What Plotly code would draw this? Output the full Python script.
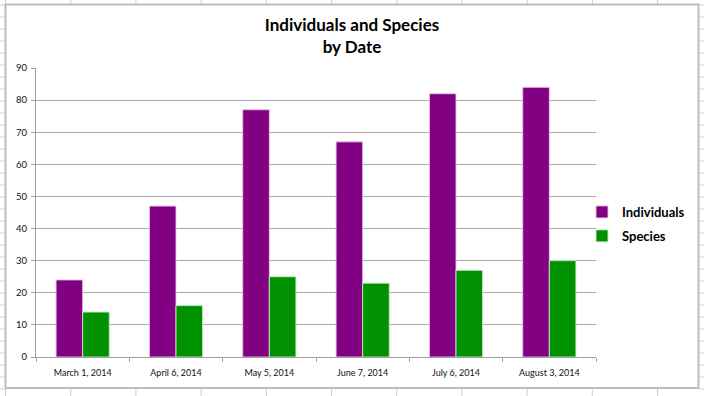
import plotly.graph_objects as go

dates = ["March 1, 2014", "April 6, 2014", "May 5, 2014", "June 7, 2014", "July 6, 2014", "August 3, 2014"]
individuals = [24, 47, 77, 67, 82, 84]
species = [14, 16, 25, 23, 27, 30]
y_ticks = [0, 10, 20, 30, 40, 50, 60, 70, 80, 90]

W, H = 704, 396
L, R, T, B = 36, 108, 68, 39
PW, PH = W - L - R, H - T - B

def px(x):
    return (x - L) / PW

def py(y):
    return 1 - (y - T) / PH

fig = go.Figure()
fig.add_trace(go.Bar(name="<b>Individuals</b>", x=dates, y=individuals,
                     marker=dict(color="#820082", line=dict(color="rgba(230,200,230,0.9)", width=1))))
fig.add_trace(go.Bar(name="<b>Species</b>", x=dates, y=species,
                     marker=dict(color="#009100", line=dict(color="rgba(200,235,200,0.9)", width=1))))

shapes = []
grid_c = "#CFCFCF"
for k in range(0, 34):
    y = 5 + 12 * k
    if y > H:
        break
    shapes.append(dict(type="line", xref="paper", yref="paper", x0=px(0), x1=px(5.5), y0=py(y), y1=py(y),
                       line=dict(color=grid_c, width=1), layer="below"))
    shapes.append(dict(type="line", xref="paper", yref="paper", x0=px(699), x1=px(704), y0=py(y), y1=py(y),
                       line=dict(color=grid_c, width=1), layer="below"))
for k in range(0, 11):
    x = 70.7 + 65.2 * k
    shapes.append(dict(type="line", xref="paper", yref="paper", x0=px(x), x1=px(x), y0=py(0), y1=py(4.5),
                       line=dict(color=grid_c, width=1), layer="below"))
    shapes.append(dict(type="line", xref="paper", yref="paper", x0=px(x), x1=px(x), y0=py(388), y1=py(396),
                       line=dict(color=grid_c, width=1), layer="below"))
shapes.append(dict(type="line", xref="paper", yref="paper", x0=px(5.5), x1=px(5.5), y0=py(0), y1=py(396),
                   line=dict(color=grid_c, width=1), layer="below"))
shapes.append(dict(type="rect", xref="paper", yref="paper", x0=px(5.5), x1=px(698.5), y0=py(388), y1=py(4.5),
                   line=dict(color="#BDBDBD", width=2), fillcolor="white", layer="below"))

fig.update_layout(
    width=W, height=H,
    margin=dict(l=L, r=R, t=T, b=B, pad=0, autoexpand=False),
    paper_bgcolor="white", plot_bgcolor="white",
    barmode="group", bargap=0.43, bargroupgap=0,
    font=dict(family="Lato, 'Open Sans', sans-serif", color="#111111"),
    title=dict(text="<b>Individuals and Species<br>by Date</b>", xref="container", x=352 / W, xanchor="center",
               yref="container", y=1 - 31 / H, yanchor="middle", font=dict(size=17, color="#000000")),
    xaxis=dict(type="category", tickson="boundaries", ticks="outside", ticklen=4, tickcolor="#A0A0A0",
               showline=True, linecolor="#A0A0A0", linewidth=1, showgrid=False, automargin=False,
               ticklabelstandoff=7, tickfont=dict(size=9, color="#111111")),
    yaxis=dict(range=[0, 90], tickvals=y_ticks, ticks="outside", ticklen=4, tickcolor="#A0A0A0",
               showline=True, linecolor="#A0A0A0", linewidth=1, showgrid=True, gridcolor="#A8A8A8",
               gridwidth=1, zeroline=False, automargin=False, ticklabelstandoff=2,
               tickfont=dict(size=9.5, color="#111111")),
    legend=dict(xref="container", yref="container", x=582 / W, xanchor="left", y=1 - 224 / H, yanchor="middle",
                bgcolor="rgba(0,0,0,0)", font=dict(size=13, color="#000000"), itemwidth=30, tracegroupgap=4),
    shapes=shapes,
    showlegend=True,
)
fig.data[0].legendgroup = "a"
fig.data[1].legendgroup = "b"

fig.write_html("out.html", config={"displayModeBar": False},
               post_script="document.body.style.margin='0px';")
